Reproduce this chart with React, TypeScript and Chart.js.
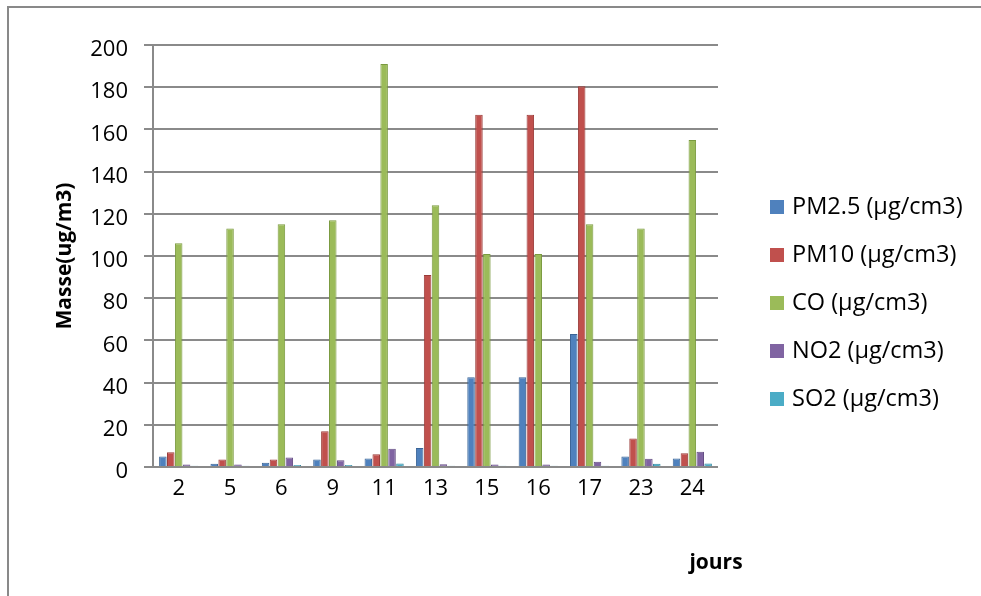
import React, { useEffect, useRef } from "react";
import { Chart, registerables } from "chart.js";

Chart.register(...registerables);

const categories = ["2", "5", "6", "9", "11", "13", "15", "16", "17", "23", "24"];
const seriesNames = ["PM2.5 (µg/cm3)", "PM10 (µg/cm3)", "CO (µg/cm3)", "NO2 (µg/cm3)", "SO2 (µg/cm3)"];
const pm25 = [5, 1.5, 2, 3.5, 4, 9, 42.5, 42.5, 63, 5, 4];
const pm10 = [7, 3.5, 3.5, 17, 6, 91, 167, 167, 180.5, 13.5, 6.5];
const co = [106, 113, 115, 117, 191, 124, 101, 101, 115, 113, 155];
const no2 = [1.2, 1.2, 4.5, 3.2, 8.6, 1.3, 1.2, 1.2, 2.5, 3.9, 7.2];
const so2 = [0.6, 0.6, 1, 1, 1.6, 0.6, 0.6, 0.6, 0.6, 1.5, 1.6];
const yTicks = [0, 20, 40, 60, 80, 100, 120, 140, 160, 180, 200];
const yTitle = "Masse(ug/m3)";
const xTitle = "jours";

const colors = ["#4F81BD", "#C0504D", "#9BBB59", "#8064A2", "#4BACC6"];
const borders = ["#3A6496", "#9A3B38", "#7A9A3F", "#634D83", "#3289A0"];

const FONT = "'Open Sans', 'DejaVu Sans', sans-serif";

export default function App() {
  const ref = useRef<HTMLCanvasElement | null>(null);

  useEffect(() => {
    if (!ref.current) return;
    const values = [pm25, pm10, co, no2, so2];
    const extrasPlugin = {
      id: "extrasPlugin",
      afterDraw(chart: any) {
        const ctx = chart.ctx;
        ctx.save();
        // x axis title
        ctx.font = `bold 21px ${FONT}`;
        ctx.fillStyle = "#000";
        ctx.textAlign = "center";
        ctx.textBaseline = "middle";
        ctx.fillText(xTitle, 707, 555);
        // legend
        ctx.font = `23.5px ${FONT}`;
        ctx.textAlign = "left";
        chart.data.datasets.forEach((ds: any, i: number) => {
          const cy = 199 + i * 48;
          ctx.fillStyle = ds.backgroundColor;
          ctx.fillRect(761, cy - 7, 14, 14);
          ctx.fillStyle = "#000";
          ctx.fillText(ds.label, 783, cy);
        });
        ctx.restore();
      },
    };
    const chart = new Chart(ref.current, {
      type: "bar",
      data: {
        labels: categories,
        datasets: seriesNames.map((name, i) => ({
          label: name,
          data: values[i],
          backgroundColor: colors[i],
          borderColor: borders[i],
          borderWidth: 1,
          categoryPercentage: 0.77,
          barPercentage: 0.95,
        })),
      },
      options: {
        responsive: false,
        animation: false,
        devicePixelRatio: 1,
        layout: { padding: { top: 37, right: 263, bottom: 0, left: 0 } },
        plugins: {
          legend: { display: false },
          tooltip: { enabled: false },
        },
        scales: {
          x: {
            type: "category",
            position: "bottom",
            grid: { display: false },
            border: { display: false },
            ticks: { color: "#000", padding: 1, font: { family: FONT, size: 22 } },
            afterFit: (s: any) => {
              s.height = 129;
            },
          },
          y: {
            type: "linear",
            position: "left",
            min: 0,
            max: 200,
            afterBuildTicks: (s: any) => {
              s.ticks = yTicks.map((v) => ({ value: v }));
            },
            grid: { color: "#8A8A8A", lineWidth: 2, tickLength: 9 },
            border: { color: "#8A8A8A", width: 2 },
            ticks: { color: "#000", padding: 16, labelOffset: 5, font: { family: FONT, size: 22 } },
            title: {
              display: true,
              text: yTitle,
              color: "#000",
              padding: { top: 43, bottom: 0 },
              font: { family: FONT, size: 21, weight: "bold" },
            },
            afterFit: (s: any) => {
              s.width = 144;
            },
          },
        },
      },
      plugins: [extrasPlugin],
    });
    return () => chart.destroy();
  }, []);

  return (
    <div
      style={{
        position: "absolute",
        left: 7,
        top: 6,
        width: 972,
        height: 590,
        borderLeft: "2px solid #898989",
        borderTop: "2px solid #898989",
      }}
    >
      <canvas ref={ref} width={972} height={588} style={{ display: "block", width: 972, height: 588 }} />
    </div>
  );
}
